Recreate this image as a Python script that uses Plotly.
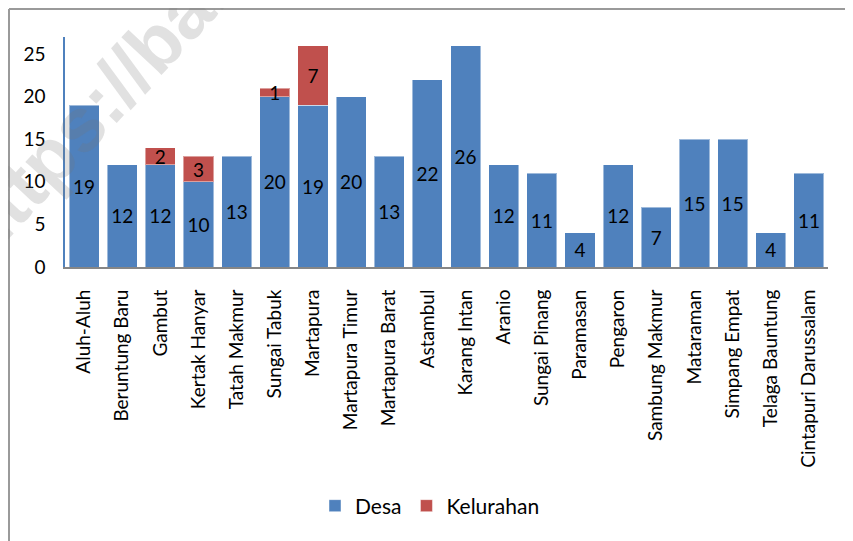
import plotly.graph_objects as go

categories = ["Aluh-Aluh", "Beruntung Baru", "Gambut", "Kertak Hanyar", "Tatah Makmur",
              "Sungai Tabuk", "Martapura", "Martapura Timur", "Martapura Barat", "Astambul",
              "Karang Intan", "Aranio", "Sungai Pinang", "Paramasan", "Pengaron",
              "Sambung Makmur", "Mataraman", "Simpang Empat", "Telaga Bauntung",
              "Cintapuri Darussalam"]
desa = [19, 12, 12, 10, 13, 20, 19, 20, 13, 22, 26, 12, 11, 4, 12, 7, 15, 15, 4, 11]
kelurahan = [None, None, 2, 3, None, 1, 7, None, None, None, None, None, None, None,
             None, None, None, None, None, None]
y_ticks = [0, 5, 10, 15, 20, 25]

OFF = 8  # page body margin offset
W, H = 853 - OFF, 541 - OFF
# target positions in screenshot pixels
PL, PR, PT, PB = 65, 828, 37, 267
L, T = PL - OFF, PT - OFF
R = W - (PR - OFF)
B = H - (PB - OFF)
pw, ph = W - L - R, H - T - B

def px_x(px):
    return (px - OFF - L) / pw

def px_y(py):
    return (H - B - (py - OFF)) / ph

fig = go.Figure()
fig.add_trace(go.Bar(
    name="Desa", x=categories, y=desa,
    marker=dict(color="#4F81BD", line=dict(color="rgba(255,255,255,0.45)", width=1)),
    text=[str(v) for v in desa], textposition="inside", insidetextanchor="middle",
    constraintext="none", textangle=0,
    insidetextfont=dict(family="Lato", size=19, color="black"),
))
fig.add_trace(go.Bar(
    name="Kelurahan", x=categories, y=kelurahan,
    marker=dict(color="#C0504D", line=dict(color="rgba(255,255,255,0.45)", width=1)),
    text=[str(v) if v else "" for v in kelurahan], textposition="inside",
    insidetextanchor="middle", constraintext="none", textangle=0,
    insidetextfont=dict(family="Lato", size=19, color="black"),
))

fig.update_layout(
    width=W, height=H,
    margin=dict(l=L, r=R, t=T, b=B, autoexpand=False),
    barmode="stack", bargap=0.21,
    plot_bgcolor="white", paper_bgcolor="white",
    font=dict(family="Lato", size=19, color="black"),
    showlegend=True,
    legend=dict(orientation="h", xref="container", yref="container",
                x=(430 - OFF) / W, xanchor="center", y=(H - (506 - OFF)) / H,
                yanchor="middle", font=dict(family="Lato", size=21, color="black"),
                itemwidth=30, traceorder="normal"),
)
fig.update_yaxes(range=[0, 27], tickvals=y_ticks, showgrid=False, zeroline=False,
                 showline=True, linecolor="#4F81BD", linewidth=1.5, ticks="",
                 automargin=False,
                 ticklabelstandoff=14, tickfont=dict(family="Lato", size=19, color="black"))
fig.update_xaxes(showgrid=False, showline=True, linecolor="#868686", linewidth=2,
                 ticks="", tickangle=-90, ticklabelstandoff=13, automargin=False,
                 tickfont=dict(family="Lato", size=19, color="black"))

# outer border (top and left visible)
fig.add_shape(type="line", xref="paper", yref="paper", x0=px_x(OFF + 1), x1=px_x(870),
              y0=px_y(OFF + 1), y1=px_y(OFF + 1), line=dict(color="#9a9a9a", width=2))
fig.add_shape(type="line", xref="paper", yref="paper", x0=px_x(OFF + 1), x1=px_x(OFF + 1),
              y0=px_y(OFF + 1), y1=px_y(570), line=dict(color="#9a9a9a", width=2))

# watermark
fig.add_annotation(xref="paper", yref="paper", x=px_x(243), y=px_y(-52),
                   text="https://banjarkab.go.id", showarrow=False, textangle=-47,
                   xanchor="center", yanchor="middle",
                   font=dict(family="Liberation Sans", size=76, color="rgba(120,120,120,0.22)",
                             weight="bold"))

fig.write_html("out.html")
